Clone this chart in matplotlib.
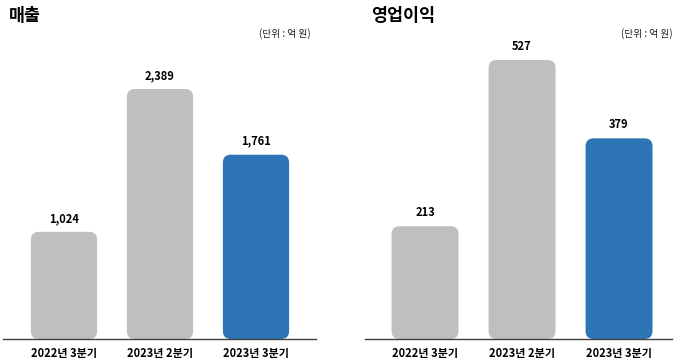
import matplotlib.pyplot as plt
from matplotlib.patches import FancyBboxPatch

plt.rcParams['font.family'] = ['Noto Sans CJK KR', 'DejaVu Sans']

categories = ['2022년 3분기', '2023년 2분기', '2023년 3분기']
sales = [1024, 2389, 1761]
profit = [213, 527, 379]
colors = ['#BFBFBF', '#BFBFBF', '#2E75B6']

W, H = 680, 363
fig = plt.figure(figsize=(W / 100, H / 100), dpi=100)


def px_axes(x0, x1, y_top, y_bot):
    return fig.add_axes([x0 / W, (H - y_bot) / H, (x1 - x0) / W, (y_bot - y_top) / H])


def panel(ax, values, xlim, ymax, title, title_x, unit_x):
    ax.set_xlim(*xlim)
    ax.set_ylim(0, ymax)
    bars = ax.bar(range(len(values)), values, width=0.69, color=colors)
    # swap the plain bars for rounded ones
    fig.canvas.draw()
    bb = ax.get_window_extent()
    xpp = (xlim[1] - xlim[0]) / bb.width
    ypp = ymax / bb.height
    r = 8 * xpp
    for b in bars:
        x, y = b.get_x(), b.get_y()
        w, h = b.get_width(), b.get_height()
        p = FancyBboxPatch((x, y), w, h,
                           boxstyle=f"round,pad=0,rounding_size={r}",
                           mutation_aspect=ypp / xpp,
                           facecolor=b.get_facecolor(), edgecolor='none')
        b.remove()
        ax.add_patch(p)
    for i, v in enumerate(values):
        ax.annotate(f'{v:,}', (i, v), xytext=(0, 5), textcoords='offset points',
                    ha='center', va='bottom', fontsize=8, fontweight='bold')
    ax.set_xticks(range(len(values)))
    ax.set_xticklabels(categories, fontsize=8, fontweight='bold')
    ax.tick_params(axis='x', length=0, pad=6)
    ax.set_yticks([])
    for s in ['top', 'right', 'left']:
        ax.spines[s].set_visible(False)
    ax.spines['bottom'].set_color('#404040')
    ax.spines['bottom'].set_linewidth(1)
    fig.text(title_x / W, 1 - 16 / H, title, fontsize=12.5, fontweight='bold',
             ha='left', va='center')
    fig.text(unit_x / W, 1 - 34 / H, '(단위 : 억 원)', fontsize=7,
             ha='right', va='center', color='#222222')


ax1 = px_axes(3, 316, 40, 339)
panel(ax1, sales, (-0.635, 2.625), 299 * 2389 / 250, '매출', 9, 311)

ax2 = px_axes(365, 672, 40, 339)
panel(ax2, profit, (-0.619, 2.546), 299 * 527 / 279, '영업이익', 371, 673)

fig.savefig('out.png', dpi=100)
